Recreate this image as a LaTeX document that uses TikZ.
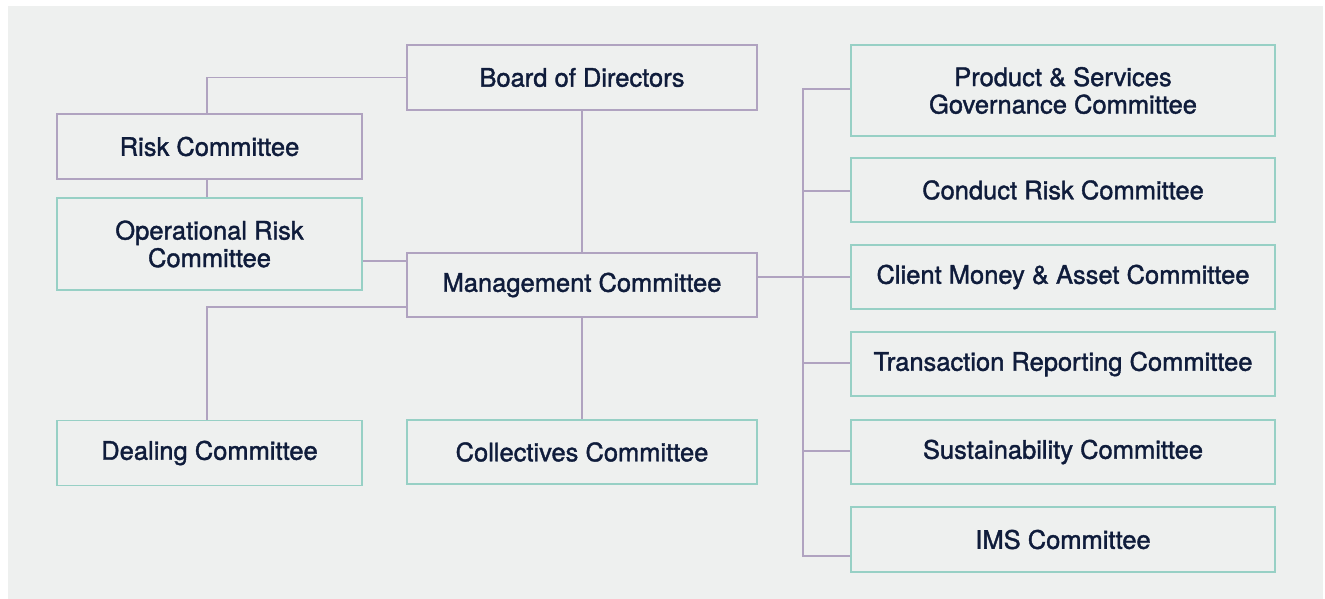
\documentclass[tikz,border=0pt]{standalone}
\usepackage{fontspec}
\setmainfont{TeX Gyre Heros}
\newfontfamily\medfont[FakeBold=1.5]{TeX Gyre Heros}
\definecolor{bg}{HTML}{EEF0EF}
\definecolor{lilac}{HTML}{B0A3C0}
\definecolor{teal}{HTML}{97D0C5}
\definecolor{ink}{HTML}{0F1C3B}
\tikzset{
  box/.style={draw, line width=1.6pt, fill=bg, inner sep=0pt, align=center,
    text=ink, font=\medfont\fontsize{25.5}{27.5}\selectfont},
  pbox/.style={box, draw=lilac},
  tbox/.style={box, draw=teal},
  conn/.style={draw=lilac, line width=1.6pt},
}
\begin{document}
\begin{tikzpicture}[x=1pt,y=-1pt]
\useasboundingbox (0,0) rectangle (1325,599);
\fill[white] (0,0) rectangle (1325,599);
\fill[bg] (8,6) rectangle (1323,599);
% nodes (left/centre)
\node[pbox, minimum width=350pt, minimum height=65pt] (board) at (582,77.5) {Board of Directors};
\node[pbox, minimum width=305pt, minimum height=65pt] (risk) at (209.5,146.5) {Risk Committee};
\node[tbox, minimum width=305pt, minimum height=92pt] (oprisk) at (209.5,244) {Operational Risk\\Committee};
\node[pbox, minimum width=350pt, minimum height=64pt] (mgmt) at (582,285) {Management Committee};
\node[tbox, minimum width=305pt, minimum height=65pt] (deal) at (209.5,453) {Dealing Committee};
\node[tbox, minimum width=350pt, minimum height=64pt] (coll) at (582,452) {Collectives Committee};
% right column
\node[tbox, minimum width=424pt, minimum height=91pt] (prod) at (1063,90.5) {Product \& Services\\Governance Committee};
\node[tbox, minimum width=424pt, minimum height=64pt] (cond) at (1063,190) {Conduct Risk Committee};
\node[tbox, minimum width=424pt, minimum height=64pt] (client) at (1063,277) {Client Money \& Asset Committee};
\node[tbox, minimum width=424pt, minimum height=64pt] (trans) at (1063,364) {Transaction Reporting Committee};
\node[tbox, minimum width=424pt, minimum height=64pt] (sust) at (1063,452) {Sustainability Committee};
\node[tbox, minimum width=424pt, minimum height=65pt] (ims) at (1063,539.5) {IMS Committee};
% bus coordinates
\coordinate (bustop) at (803,89);
\coordinate (busbot) at (803,556);
% connectors
\draw[conn] (board.west) -- (207,77.5) -- (risk.north -| 207,0);
\draw[conn] (board.south) -- (mgmt.north);
\draw[conn] (risk.south -| 207,0) -- (oprisk.north -| 207,0);
\draw[conn] (oprisk.east |- 0,261) -- (mgmt.west |- 0,261);
\draw[conn] (mgmt.west |- 0,307) -- (207,307) -- (deal.north -| 207,0);
\draw[conn] (mgmt.south) -- (coll.north);
\draw[conn] (mgmt.east |- 0,277) -- (client.west |- 0,277);
\draw[conn] (prod.west |- bustop) -- (bustop) -- (busbot) -- (ims.west |- busbot);
\draw[conn] (803,191) -- (cond.west |- 0,191);
\draw[conn] (803,363) -- (trans.west |- 0,363);
\draw[conn] (803,451) -- (sust.west |- 0,451);
\end{tikzpicture}
\end{document}
